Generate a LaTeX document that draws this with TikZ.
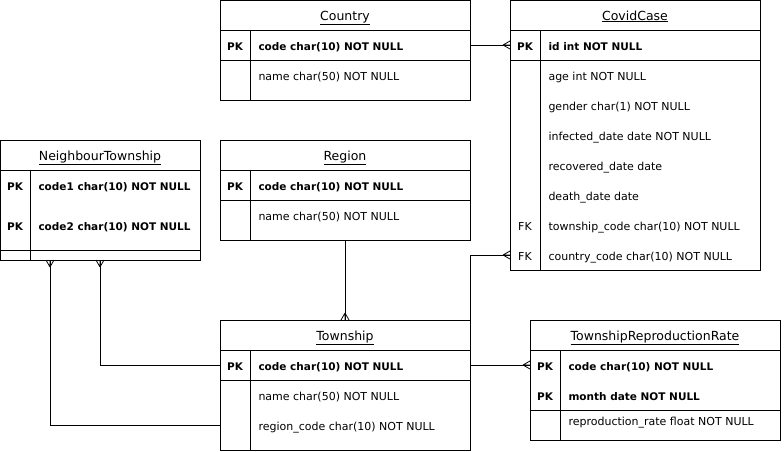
\documentclass[tikz,border=0pt]{standalone}
\usepackage{fontspec}
\setmainfont{DejaVu Sans}
\begin{document}
\begin{tikzpicture}[x=1pt,y=-1pt, line width=1pt,
  tbl/.style={draw, inner sep=0pt, outer sep=0pt, anchor=north west},
  hdr/.style={font=\fontsize{12.5}{14}\selectfont, anchor=base, yshift=-5pt, inner sep=0pt},
  fld/.style={font=\fontsize{11}{13}\selectfont, anchor=base west, yshift=-5pt, inner sep=0pt},
  fldb/.style={font=\bfseries\fontsize{10.5}{12}\selectfont, anchor=base west, yshift=-5pt, inner sep=0pt},
  key/.style={font=\fontsize{11}{13}\selectfont, anchor=base, yshift=-5pt, inner sep=0pt},
  keyb/.style={font=\bfseries\fontsize{10.5}{12}\selectfont, anchor=base, yshift=-5pt, inner sep=0pt},
  crow/.pic={\draw[line width=0.8pt] (-7,0) -- (0,4) (-7,0) -- (0,-4) (-7,0) -- (0,0);}
]
\fill[white] (0,0) rectangle (784,451);
\useasboundingbox (0,0) rectangle (784,451);

% Country
\node[tbl, minimum width=250, minimum height=100] (country) at (220,0) {};
\draw (220,30) -- (470,30) (220,60) -- (470,60) (250,30) -- (250,100);
\node[hdr] (countryT) at (345,15) {\underline{Country}};
\node[keyb] (countryK1) at (235,45) {PK};
\node[fldb] (countryF1) at (258,45) {code char(10) NOT NULL};
\node[fld] (countryF2) at (258,75) {name char(50) NOT NULL};

% CovidCase
\node[tbl, minimum width=250, minimum height=270] (covid) at (510,0) {};
\draw (510,30) -- (760,30) (510,60) -- (760,60) (540,30) -- (540,270);
\node[hdr] (covidT) at (635,15) {\underline{CovidCase}};
\node[keyb] (covidK1) at (525,45) {PK};
\node[fldb] (covidF1) at (548,45) {id int NOT NULL};
\node[fld] (covidF2) at (548,75) {age int NOT NULL};
\node[fld] (covidF3) at (548,105) {gender char(1) NOT NULL};
\node[fld] (covidF4) at (548,135) {infected\_date date NOT NULL};
\node[fld] (covidF5) at (548,165) {recovered\_date date};
\node[fld] (covidF6) at (548,195) {death\_date date};
\node[key] (covidK7) at (525,225) {FK};
\node[fld] (covidF7) at (548,225) {township\_code char(10) NOT NULL};
\node[key] (covidK8) at (525,255) {FK};
\node[fld] (covidF8) at (548,255) {country\_code char(10) NOT NULL};

% NeighbourTownship
\node[tbl, minimum width=200, minimum height=120] (nt) at (0,140) {};
\draw (0,170) -- (200,170) (0,250) -- (200,250) (30,170) -- (30,260);
\node[hdr] (ntT) at (100,155) {\underline{NeighbourTownship}};
\node[keyb] (ntK1) at (15,185) {PK};
\node[fldb] (ntF1) at (38,185) {code1 char(10) NOT NULL};
\node[keyb] (ntK2) at (15,225) {PK};
\node[fldb] (ntF2) at (38,225) {code2 char(10) NOT NULL};

% Region
\node[tbl, minimum width=250, minimum height=100] (region) at (220,140) {};
\draw (220,170) -- (470,170) (220,200) -- (470,200) (250,170) -- (250,240);
\node[hdr] (regionT) at (345,155) {\underline{Region}};
\node[keyb] (regionK1) at (235,185) {PK};
\node[fldb] (regionF1) at (258,185) {code char(10) NOT NULL};
\node[fld] (regionF2) at (258,215) {name char(50) NOT NULL};

% Township
\node[tbl, minimum width=250, minimum height=130] (town) at (220,320) {};
\draw (220,350) -- (470,350) (220,380) -- (470,380) (250,350) -- (250,450);
\node[hdr] (townT) at (345,335) {\underline{Township}};
\node[keyb] (townK1) at (235,365) {PK};
\node[fldb] (townF1) at (258,365) {code char(10) NOT NULL};
\node[fld] (townF2) at (258,395) {name char(50) NOT NULL};
\node[fld] (townF3) at (258,425) {region\_code char(10) NOT NULL};

% TownshipReproductionRate
\node[tbl, minimum width=250, minimum height=120] (trr) at (530,320) {};
\draw (530,350) -- (780,350) (530,410) -- (780,410) (560,350) -- (560,440);
\node[hdr] (trrT) at (655,335) {\underline{TownshipReproductionRate}};
\node[keyb] (trrK1) at (545,365) {PK};
\node[fldb] (trrF1) at (568,365) {code char(10) NOT NULL};
\node[keyb] (trrK2) at (545,395) {PK};
\node[fldb] (trrF2) at (568,395) {month date NOT NULL};
\node[fld] (trrF3) at (568,420) {reproduction\_rate float NOT NULL};

% connectors
\coordinate (ntA) at (50,260);
\coordinate (ntB) at (100,260);
\coordinate (rowK1c) at (0,45);
\coordinate (rowK8c) at (0,255);
\coordinate (rowT1) at (0,365);
\coordinate (rowT3) at (0,425);
\draw (rowK1c -| country.east) -- (rowK1c -| covid.west);
\pic at (rowK1c -| covid.west) {crow};
\draw (town.north east) |- (rowK8c -| covid.west);
\pic at (rowK8c -| covid.west) {crow};
\draw (region.south) -- (town.north);
\pic[rotate=-90] at (town.north) {crow};
\draw (ntA) |- (rowT3 -| town.west);
\pic[rotate=90] at (ntA) {crow};
\draw (ntB) |- (rowT1 -| town.west);
\pic[rotate=90] at (ntB) {crow};
\draw (rowT1 -| town.east) -- (rowT1 -| trr.west);
\pic at (rowT1 -| trr.west) {crow};
\end{tikzpicture}
\end{document}
